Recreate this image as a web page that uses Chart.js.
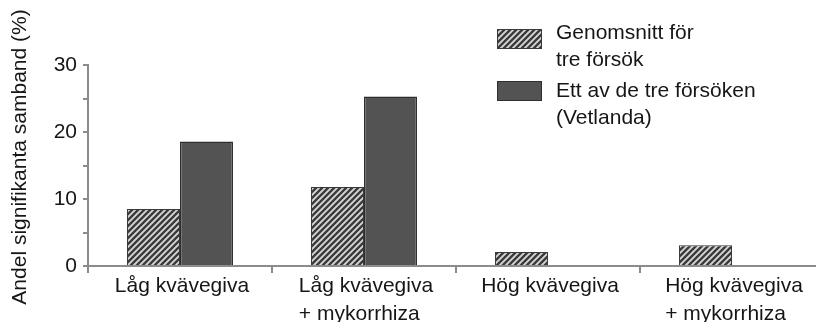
<!DOCTYPE html>
<html lang="sv">
<head>
    <meta charset="UTF-8" />
    <title>Andel signifikanta samband</title>
    <style>
        html, body {
            margin: 0;
            padding: 0;
            background: #fff;
            overflow: hidden;
        }
        .chart-container {
            width: 826px;
            height: 322px;
        }
    </style>
    <script src="https://cdn.jsdelivr.net/npm/chart.js"></script>
</head>
<body>
    <div class="chart-container">
        <canvas id="sambandChart" width="826" height="322"></canvas>
    </div>

    <script>
        // Data
        const categories = [
            ['Låg kvävegiva'],
            ['Låg kvävegiva', '+ mykorrhiza'],
            ['Hög kvävegiva'],
            ['Hög kvävegiva', '+ mykorrhiza']
        ];
        const meanValues = [8.5, 11.8, 2.1, 3.1];      // Genomsnitt för tre försök
        const vetlandaValues = [18.6, 25.3, 0, 0];    // Ett av de tre försöken (Vetlanda)
        const yTickLabels = [0, 10, 20, 30];
        const legendLabels = [
            ['Genomsnitt för', 'tre försök'],
            ['Ett av de tre försöken', '(Vetlanda)']
        ];
        const yTitle = 'Andel signifikanta samband (%)';

        const FONT = "'Liberation Sans', Arial, sans-serif";
        const TEXT_COLOR = '#161616';
        const AXIS_COLOR = '#8c8c8c';
        const DARK_FILL = '#535353';
        const DARK_BORDER = '#2e2e2e';

        // diagonal hatch used for the "mean" bars
        function makeHatch() {
            const c = document.createElement('canvas');
            c.width = 6;
            c.height = 6;
            const g = c.getContext('2d');
            g.fillStyle = '#d8d8d8';
            g.fillRect(0, 0, 6, 6);
            g.strokeStyle = '#3b3b3b';
            g.lineWidth = 2.4;
            g.beginPath();
            g.moveTo(-1, 7); g.lineTo(7, -1);
            g.moveTo(-1, 1); g.lineTo(1, -1);
            g.moveTo(5, 7); g.lineTo(7, 5);
            g.stroke();
            return g.createPattern(c, 'repeat');
        }
        const hatch = makeHatch();

        // x labels: second line is left aligned with the first one
        const categoryLabels = {
            id: 'categoryLabels',
            afterDraw(chart) {
                const ctx = chart.ctx;
                const xScale = chart.scales.x;
                const base = chart.chartArea.bottom;
                ctx.save();
                ctx.font = '21px ' + FONT;
                ctx.fillStyle = TEXT_COLOR;
                ctx.textAlign = 'left';
                ctx.textBaseline = 'alphabetic';
                categories.forEach((lines, i) => {
                    const x = xScale.getPixelForValue(i);
                    const left = x - ctx.measureText(lines[0]).width / 2 + 2;
                    lines.forEach((line, j) => {
                        ctx.fillText(line, left, base + 26 + j * 28);
                    });
                });
                ctx.restore();
            }
        };

        // y axis title, sits a little above the middle of the axis
        const axisTitle = {
            id: 'axisTitle',
            afterDraw(chart) {
                const ctx = chart.ctx;
                ctx.save();
                ctx.font = '21px ' + FONT;
                ctx.fillStyle = TEXT_COLOR;
                ctx.textAlign = 'center';
                ctx.textBaseline = 'middle';
                ctx.translate(20, 157);
                ctx.rotate(-Math.PI / 2);
                ctx.fillText(yTitle, 0, 0);
                ctx.restore();
            }
        };

        // legend with two-line labels
        const boxLegend = {
            id: 'boxLegend',
            afterDraw(chart) {
                const ctx = chart.ctx;
                const fills = [hatch, DARK_FILL];
                const borders = ['#3a3a3a', DARK_BORDER];
                const boxTops = [29, 81];
                const lineTops = [39, 97];
                ctx.save();
                ctx.font = '21px ' + FONT;
                legendLabels.forEach((lines, i) => {
                    ctx.fillStyle = fills[i];
                    ctx.fillRect(497, boxTops[i], 45, 20);
                    ctx.strokeStyle = borders[i];
                    ctx.lineWidth = 1;
                    ctx.strokeRect(497.5, boxTops[i] + 0.5, 44, 19);
                    ctx.fillStyle = TEXT_COLOR;
                    lines.forEach((line, j) => {
                        ctx.fillText(line, 556, lineTops[i] + j * 27);
                    });
                });
                ctx.restore();
            }
        };

        Chart.defaults.font.family = FONT;
        Chart.defaults.color = TEXT_COLOR;

        const ctx = document.getElementById('sambandChart').getContext('2d');
        new Chart(ctx, {
            type: 'bar',
            data: {
                labels: categories,
                datasets: [{
                    label: legendLabels[0].join(' '),
                    data: meanValues,
                    backgroundColor: hatch,
                    borderColor: '#3a3a3a',
                    borderWidth: 1,
                    categoryPercentage: 0.576,
                    barPercentage: 1
                }, {
                    label: legendLabels[1].join(' '),
                    data: vetlandaValues,
                    backgroundColor: DARK_FILL,
                    borderColor: DARK_BORDER,
                    borderWidth: c => (c.raw > 0 ? 1.5 : 0),
                    categoryPercentage: 0.576,
                    barPercentage: 1
                }]
            },
            options: {
                responsive: false,
                animation: false,
                devicePixelRatio: 1,
                layout: {
                    padding: { top: 65, right: 2, bottom: 0, left: 0 }
                },
                plugins: {
                    legend: { display: false },
                    tooltip: { enabled: false }
                },
                scales: {
                    x: {
                        grid: {
                            offset: true,
                            drawOnChartArea: false,
                            tickLength: 7,
                            color: AXIS_COLOR,
                            lineWidth: 2
                        },
                        border: { color: AXIS_COLOR, width: 2 },
                        ticks: { callback: () => '' },
                        afterFit: s => { s.height = 56; }
                    },
                    y: {
                        min: 0,
                        max: 30,
                        ticks: {
                            stepSize: 5,
                            padding: 6,
                            font: { size: 21 },
                            color: TEXT_COLOR,
                            callback: v => (yTickLabels.includes(v) ? v : '')
                        },
                        grid: {
                            drawOnChartArea: false,
                            tickLength: 5,
                            color: AXIS_COLOR,
                            lineWidth: 2
                        },
                        border: { color: AXIS_COLOR, width: 2 },
                        afterFit: s => { s.width = 88; }
                    }
                }
            },
            plugins: [categoryLabels, axisTitle, boxLegend]
        });
    </script>
</body>
</html>
